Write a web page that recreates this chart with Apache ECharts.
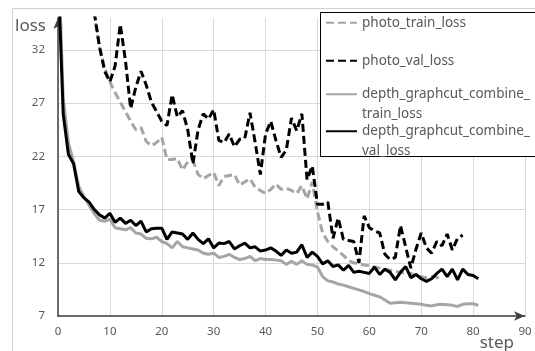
<!DOCTYPE html>
<html>
<head>
<meta charset="utf-8">
<script src="https://cdn.jsdelivr.net/npm/echarts@6/dist/echarts.min.js"></script>
<style>
html,body{margin:0;padding:0;background:#fff;}
#chart{width:535px;height:351px;}
</style>
</head>
<body>
<div id="chart"></div>
<script>
/* loss curves */
var depthStart = 0;
var depthValLoss = [39.5,26.0,22.2,21.3,18.7,18.1,17.7,17.0,16.5,16.2,
	16.65,15.8,16.2,15.7,16.0,15.5,15.9,14.9,15.2,15.25,
	15.25,14.2,14.9,14.8,14.7,14.2,14.8,14.2,13.8,14.25,
	13.4,13.85,13.8,14.0,13.3,13.6,13.85,13.4,13.5,13.1,
	13.2,13.4,13.1,12.7,13.2,12.9,13.0,13.7,12.5,13.0,
	12.6,11.9,12.2,11.65,11.8,11.3,11.75,11.1,11.2,11.1,
	11.0,11.6,10.9,11.4,11.1,10.4,11.1,11.65,10.6,10.9,
	10.5,10.25,10.5,11.0,11.4,10.7,11.4,10.4,11.4,10.9,
	10.8,10.5];
var depthTrainLoss = [42,27.5,23.3,21.5,19.2,18.2,17.4,16.6,16.0,15.9,
	16.1,15.3,15.2,15.1,15.3,14.8,14.7,14.3,14.25,14.4,
	14.0,13.8,13.4,14.0,13.5,13.4,13.3,13.2,12.9,12.8,
	12.9,12.5,12.6,12.8,12.5,12.3,12.4,12.6,12.2,12.4,
	12.3,12.3,12.25,12.2,11.85,12.15,11.85,12.2,11.85,11.8,
	11.6,10.7,10.3,10.2,10.0,9.9,9.75,9.6,9.45,9.3,
	9.1,8.95,8.8,8.5,8.2,8.25,8.3,8.25,8.2,8.15,
	8.1,8.0,7.95,8.05,8.1,8.05,8.0,7.9,8.1,8.15,
	8.15,8.0];
var photoStart = 6;
var photoValLoss = [40,35.5,32.3,30.0,29.0,30.5,34.4,31.0,26.5,28.5,
	30.0,28.7,27.1,26.2,25.3,24.9,27.8,25.7,26.3,24.5,
	21.3,24.5,26.0,25.5,26.4,23.5,23.3,24.1,22.9,23.6,
	23.7,26.1,23.3,20.3,24.1,25.3,23.5,21.9,22.6,25.6,
	24.4,26.0,19.8,21.1,17.5,17.5,17.7,14.3,16.2,14.2,
	14.1,14.0,12.0,16.4,15.3,15.0,14.8,12.8,12.3,12.5,
	15.5,13.5,11.5,13.3,14.8,13.4,12.9,14.0,13.6,14.7,
	13.2,14.3,14.6];
var photoTrainLoss = [39,35.3,32.2,30.3,29.0,28.0,27.1,26.2,25.3,24.5,
	24.7,23.4,23.0,23.3,23.8,21.7,21.7,21.8,20.7,21.5,
	21.6,20.3,19.9,20.2,20.5,19.25,20.1,20.2,20.3,19.3,
	19.6,19.9,19.1,18.8,18.5,18.9,19.4,18.9,19.0,18.8,
	18.5,19.25,18.0,19.6,16.8,14.8,14.0,13.5,13.1,12.7,
	12.2,12.0,11.9,11.8,11.75,11.6,11.5,11.4,11.3,11.2,
	11.1,11.0,11.0,10.8,10.7,10.6,10.7,10.65,10.3];
var seriesNames = ['photo_train_loss','photo_val_loss','depth_graphcut_combine_train_loss','depth_graphcut_combine_val_loss'];

function toPairs(arr,start){
	var out = [];
	for(var i=0;i<arr.length;i++){
		out.push([start+i,arr[i]]);
	}
	return out;
}

var grayC = '#a5a5a5';
var textC = '#595959';
var fontF = 'Noto Sans';

var myChart = echarts.init(document.getElementById('chart'),null,{renderer:'canvas'});
var legendText = {color:textC,fontSize:13.5,fontFamily:fontF,lineHeight:19.5};
var option = {
	animation:false,
	backgroundColor:'#fff',
	grid:{left:58,right:10,top:18,bottom:35,outerBoundsMode:'none'},
	xAxis:{
		type:'value',min:0,max:90,interval:10,
		name:'step',nameLocation:'end',nameGap:-11,nameMoveOverlap:false,
		nameTextStyle:{color:textC,fontSize:17,fontFamily:fontF,align:'right',verticalAlign:'top',padding:[19,0,0,0]},
		axisLine:{show:true,symbol:['none','arrow'],symbolSize:[7,11],lineStyle:{color:'#404040',width:1.5}},
		axisTick:{show:false},
		axisLabel:{color:textC,fontSize:11.5,fontFamily:fontF,margin:10},
		splitLine:{show:true,lineStyle:{color:'#d9d9d9',width:1}}
	},
	yAxis:{
		type:'value',min:7,max:35,interval:5,
		name:'loss',nameLocation:'end',nameGap:-8,nameMoveOverlap:false,
		nameTextStyle:{color:textC,fontSize:17,fontFamily:fontF,align:'right',verticalAlign:'middle',padding:[0,12,0,0]},
		axisLine:{show:true,symbol:['none','arrow'],symbolSize:[7,11],lineStyle:{color:'#404040',width:1.5}},
		axisTick:{show:false},
		axisLabel:{color:textC,fontSize:11.5,fontFamily:fontF,margin:13,showMaxLabel:false},
		splitLine:{show:true,showMaxLine:false,lineStyle:{color:'#d9d9d9',width:1}}
	},
	legend:[{
		data:[seriesNames[0],seriesNames[1]],
		orient:'vertical',left:325,top:13,itemWidth:31,itemHeight:14,itemGap:18.5,
		z:10,padding:0,itemStyle:{opacity:0},
		textStyle:legendText
	},{
		data:[seriesNames[2],seriesNames[3]],
		orient:'vertical',left:325,top:65,itemWidth:31,itemHeight:14,itemGap:-21.5,
		z:10,padding:0,itemStyle:{opacity:0},
		formatter:function(name){
			return '\n'+name.replace('combine_','combine_\n');
		},
		textStyle:legendText
	}],
	graphic:[
		{type:'polyline',z:1,silent:true,shape:{points:[[12.5,351],[12.5,8.5],[535,8.5]]},style:{fill:null,stroke:'#d0d0d0',lineWidth:1}},
		{type:'rect',z:5,silent:true,shape:{x:320.5,y:12.5,width:260,height:144},style:{fill:'#fff',stroke:'#000',lineWidth:1}}
	],
	series:[
		{name:seriesNames[0],type:'line',data:toPairs(photoTrainLoss,photoStart),showSymbol:false,symbol:'none',
			lineStyle:{color:grayC,width:3,type:[8,4]},itemStyle:{color:grayC},z:2},
		{name:seriesNames[1],type:'line',data:toPairs(photoValLoss,photoStart),showSymbol:false,symbol:'none',
			lineStyle:{color:'#000',width:3,type:[8,4]},itemStyle:{color:'#000'},z:3},
		{name:seriesNames[2],type:'line',data:toPairs(depthTrainLoss,depthStart),showSymbol:false,symbol:'none',
			lineStyle:{color:grayC,width:3},itemStyle:{color:grayC},z:2},
		{name:seriesNames[3],type:'line',data:toPairs(depthValLoss,depthStart),showSymbol:false,symbol:'none',
			lineStyle:{color:'#000',width:3},itemStyle:{color:'#000'},z:3}
	]
};
myChart.setOption(option);
</script>
</body>
</html>
